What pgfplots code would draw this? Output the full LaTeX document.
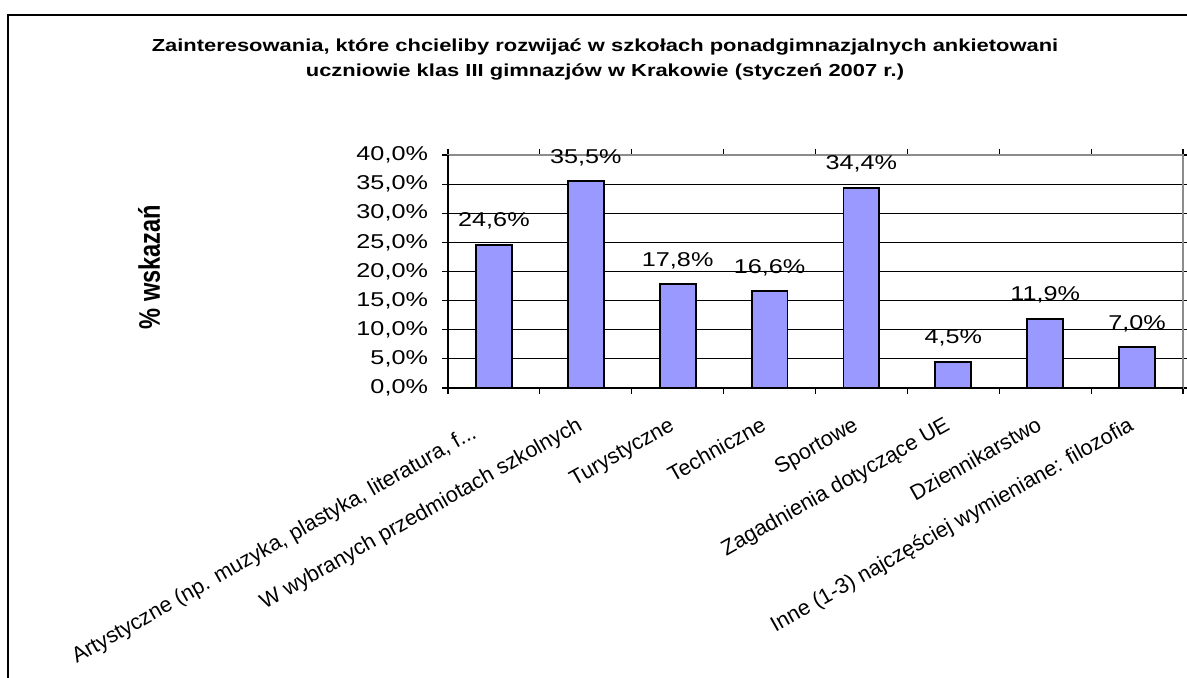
\documentclass[border=0pt]{standalone}
\usepackage{fontspec}
\setmainfont{Liberation Sans}[FakeStretch=1.26]
\newfontfamily\plainsans{Liberation Sans}
\usepackage{pgfplots}
\pgfplotsset{compat=1.18}
\definecolor{barfill}{HTML}{9999FF}
\definecolor{boxgray}{HTML}{8C8C8C}
\newcommand\threedots{...}

\begin{document}
\begin{tikzpicture}
\useasboundingbox (0,0) rectangle (593.5pt,339pt);
% outer chart frame (cut off at right and bottom)
\begin{scope}
  \clip (0,0) rectangle (593.5pt,339pt);
  \draw[line width=1pt] (4pt,-10pt) -- (4pt,331.5pt) -- (610pt,331.5pt);
\end{scope}
% title
\node[font=\bfseries\fontsize{8.7}{12.5}\selectfont, anchor=base] at (302.5pt,313.2pt)
  {Zainteresowania, które chcieliby rozwijać w szkołach ponadgimnazjalnych ankietowani};
\node[font=\bfseries\fontsize{8.7}{12.5}\selectfont, anchor=base] at (302.5pt,300.6pt)
  {uczniowie klas III gimnazjów w Krakowie (styczeń 2007 r.)};
% y label
\node[font=\plainsans\bfseries\fontsize{11.8}{14}\selectfont, xscale=1.26, rotate=90] at (74.5pt,205.5pt)
  {\% wskazań};

\begin{axis}[
  at={(224pt,145pt)}, anchor=south west,
  scale only axis, width=367.5pt, height=116.5pt,
  ybar, bar width=0.39,
  xmin=-0.5, xmax=7.5, ymin=0, ymax=40,
  xtick={0,1,2,3,4,5,6,7},
  xticklabels={
    {Artystyczne (np. muzyka, plastyka, literatura, f\threedots\kern8pt},
    {W wybranych przedmiotach szkolnych},
    {Turystyczne},
    {Techniczne},
    {Sportowe},
    {Zagadnienia dotyczące UE},
    {Dziennikarstwo},
    {Inne (1-3) najczęściej wymieniane: filozofia}},
  minor xtick={-0.5,0.5,1.5,2.5,3.5,4.5,5.5,6.5,7.5},
  ytick={0,5,10,15,20,25,30,35,40},
  /pgf/number format/assume math mode=true,
  yticklabel={\pgfmathprintnumber[fixed,fixed zerofill,precision=1,use comma]{\tick}\%},
  ymajorgrids, grid style={black, line width=0.5pt},
  tick align=outside, major tick length=3pt, minor tick length=3pt,
  major x tick style={draw=none},
  minor x tick style={draw=black, line width=0.6pt},
  ytick style={draw=black, line width=0.6pt},
  axis line style={draw=boxgray, line width=0.8pt},
  yticklabel style={font=\fontsize{10}{12}\selectfont, xshift=-3.5pt},
  xticklabel style={font=\plainsans\fontsize{10.8}{13}\selectfont, inner sep=0pt,
    xshift=-1pt, yshift=-17.5pt, rotate=29.5, anchor=base east},
  point meta=y,
  nodes near coords={\pgfmathprintnumber[fixed,fixed zerofill,precision=1,use comma]{\pgfplotspointmeta}\%},
  nodes near coords align={anchor=base, yshift=9pt},
  every node near coord/.append style={font=\fontsize{10}{12}\selectfont, black},
  clip=false,
]
\addplot[fill=barfill, draw=black, line width=0.9pt]
  coordinates {(0,24.6) (1,35.5) (2,17.8) (3,16.6) (4,34.4) (5,4.5) (6,11.9) (7,7.0)};
\draw[black, line width=0.6pt] (rel axis cs:0,1) -- (rel axis cs:0,0) -- (rel axis cs:1,0);
\end{axis}
\end{tikzpicture}
\end{document}
